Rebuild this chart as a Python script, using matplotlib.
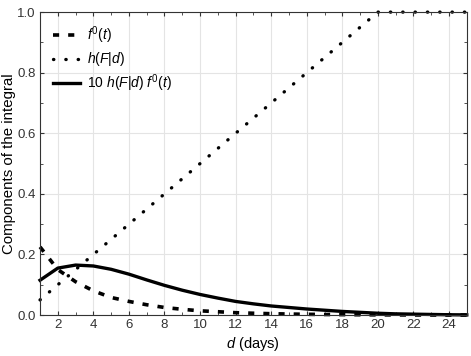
import matplotlib
matplotlib.use("Agg")
import matplotlib.pyplot as plt
from matplotlib.ticker import MultipleLocator, FormatStrFormatter

plt.rcParams.update({"font.family": "Liberation Sans", "font.size": 10,
                     "mathtext.fontset": "custom",
                     "mathtext.rm": "Liberation Sans",
                     "mathtext.it": "Liberation Sans:italic"})

# values
days = [1, 2, 3, 4, 5, 6, 7, 8, 9, 10, 11, 12, 13, 14, 15, 16, 17, 18, 19,
        20, 21, 22, 23, 24, 25]
f0 = [0.225, 0.150, 0.110, 0.080, 0.058, 0.045, 0.034, 0.025, 0.019, 0.014,
      0.011, 0.0078, 0.006, 0.0045, 0.0034, 0.0025, 0.0019, 0.0014, 0.001,
      0.0007, 0.0005, 0.0003, 0.0002, 0.0001, 0.0001]
h_fd = [0.05, 0.10, 0.15, 0.20, 0.25, 0.30, 0.35, 0.40, 0.45, 0.50, 0.55, 0.60,
        0.65, 0.70, 0.75, 0.80, 0.85, 0.90, 0.95, 1.0, 1.0, 1.0, 1.0, 1.0, 1.0]
prod10 = [0.115, 0.155, 0.165, 0.162, 0.151, 0.135, 0.116, 0.098, 0.082,
          0.068, 0.056, 0.045, 0.037, 0.030, 0.025, 0.020, 0.016, 0.012,
          0.009, 0.006, 0.004, 0.003, 0.002, 0.001, 0.0006]

fig = plt.figure(figsize=(4.71, 3.56), dpi=100)
ax = fig.add_axes([0.085, 0.115, 0.906, 0.851])

ax.grid(True, which="major", color="#e4e4e4", lw=0.8)
ax.set_axisbelow(True)

ax.plot(days, f0, color="black", lw=2.6, ls=(0, (1.7, 2.5)),
        dash_capstyle="butt", label=r"$f^{0}(t)$", clip_on=False)
ax.plot(days, h_fd, color="black", lw=2.4, ls=(0, (0.1, 3.6)),
        dash_capstyle="round", label=r"$h(F|d)$", clip_on=False)
ax.plot(days, prod10, color="black", lw=2.4, ls="-",
        label=r"10 $h(F|d)$ $f^{0}(t)$", clip_on=False)

ax.set_xlim(1, 25)
ax.set_ylim(0, 1.0)
ax.xaxis.set_major_locator(MultipleLocator(2))
ax.xaxis.set_minor_locator(MultipleLocator(1))
ax.yaxis.set_major_locator(MultipleLocator(0.2))
ax.yaxis.set_minor_locator(MultipleLocator(0.1))
ax.yaxis.set_major_formatter(FormatStrFormatter("%.1f"))
ax.tick_params(which="both", direction="in", top=True, right=True,
               labelsize=9.5, colors="#333333", labelcolor="#333333", pad=3)
ax.tick_params(which="major", length=3)
ax.tick_params(which="minor", length=2)
for s in ax.spines.values():
    s.set_color("#333333")

ax.set_xlabel(r"$d$ (days)", fontsize=10.5, labelpad=3)
ax.set_ylabel("Components of the integral", fontsize=10.8, labelpad=1)

ax.legend(loc="upper left", frameon=False, fontsize=10, handlelength=2.0,
          handletextpad=0.5, labelspacing=0.3, borderaxespad=0.5)

fig.savefig("out.png", dpi=100)
